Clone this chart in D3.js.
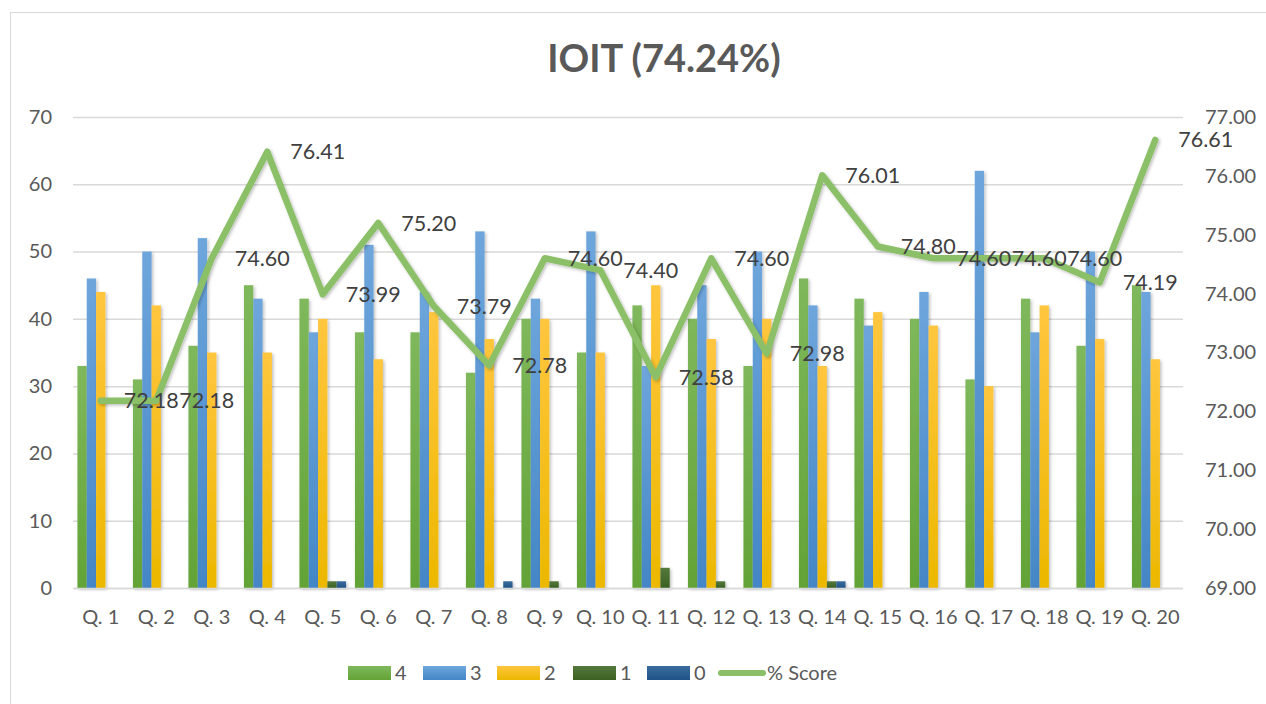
<!DOCTYPE html>
<html>
<head>
<meta charset="utf-8">
<script src="https://cdn.jsdelivr.net/npm/d3@7"></script>
<style>
  body { margin: 0; background: #fff; }
  text { font-family: Lato, "Open Sans", sans-serif; fill: #595959; }
</style>
</head>
<body>
<div class="chart"></div>
<script>
// categories and series
const questions = ['Q. 1','Q. 2','Q. 3','Q. 4','Q. 5','Q. 6','Q. 7','Q. 8','Q. 9','Q. 10',
  'Q. 11','Q. 12','Q. 13','Q. 14','Q. 15','Q. 16','Q. 17','Q. 18','Q. 19','Q. 20'];
const seriesKeys = ['4', '3', '2', '1', '0'];
const score4 = [33,31,36,45,43,38,38,32,40,35,42,40,33,46,43,40,31,43,36,45];
const score3 = [46,50,52,43,38,51,44,53,43,53,33,45,50,42,39,44,62,38,50,44];
const score2 = [44,42,35,35,40,34,41,37,40,35,45,37,40,33,41,39,30,42,37,34];
const score1 = [0,0,0,0,1,0,0,0,1,0,3,1,0,1,0,0,0,0,0,0];
const score0 = [0,0,0,0,1,0,0,1,0,0,0,0,0,1,0,0,0,0,0,0];
const pctScore = [72.18,72.18,74.60,76.41,73.99,75.20,73.79,72.78,74.60,74.40,
  72.58,74.60,72.98,76.01,74.80,74.60,74.60,74.60,74.19,76.61];
const leftTicks = [0,10,20,30,40,50,60,70];
const rightTicks = [69,70,71,72,73,74,75,76,77];
const title = 'IOIT (74.24%)';

const seriesData = [score4, score3, score2, score1, score0];
const colors = [
  { top: '#7fb85c', bottom: '#63a336' },
  { top: '#6ea6dc', bottom: '#4486c6' },
  { top: '#ffc63f', bottom: '#ecb800' },
  { top: '#55793c', bottom: '#3b6022' },
  { top: '#3a6c9c', bottom: '#1f5488' }
];
const legendFill = ['#70ad47', '#5b9bd5', '#ffc000', '#43682b', '#255e91'];
const lineColor = '#8cc068';

const width = 1266, height = 704;
const margin = { left: 73, right: 83, top: 117, bottom: 116 };
const plotW = width - margin.left - margin.right;
const plotH = height - margin.top - margin.bottom;

const svg = d3.select('.chart').append('svg')
  .attr('width', width).attr('height', height);

const defs = svg.append('defs');
colors.forEach((c, i) => {
  const g = defs.append('linearGradient').attr('id', 'grad' + i)
    .attr('x1', 0).attr('y1', 0).attr('x2', 0).attr('y2', 1);
  g.append('stop').attr('offset', '0%').attr('stop-color', c.top);
  g.append('stop').attr('offset', '100%').attr('stop-color', c.bottom);
});
const shadow = defs.append('filter').attr('id', 'shadow')
  .attr('x', '-50%').attr('y', '-20%').attr('width', '200%').attr('height', '140%');
shadow.append('feDropShadow').attr('dx', 1.5).attr('dy', 1.5).attr('stdDeviation', 1.5)
  .attr('flood-color', '#000').attr('flood-opacity', 0.25);

// chart border
svg.append('rect')
  .attr('x', 10.5).attr('y', 12.5).attr('width', 1300).attr('height', 800)
  .attr('fill', 'none').attr('stroke', '#d9d9d9');

// title
svg.append('text')
  .attr('x', 664).attr('y', 72)
  .attr('text-anchor', 'middle')
  .attr('font-size', 38).attr('font-weight', 'bold')
  .text(title);

const x = d3.scaleBand().domain(questions).range([0, plotW]);
const xg = d3.scaleBand().domain(seriesKeys)
  .range([x.bandwidth() * 0.08, x.bandwidth() * 0.92]);
const y = d3.scaleLinear().domain([0, 70]).range([plotH, 0]);
const y2 = d3.scaleLinear().domain([69, 77]).range([plotH, 0]);

const graph = svg.append('g').attr('transform', `translate(${margin.left},${margin.top})`);

// gridlines
graph.append('g')
  .selectAll('line').data(leftTicks).join('line')
  .attr('x1', 0).attr('x2', plotW)
  .attr('y1', d => y(d) + 0.5).attr('y2', d => y(d) + 0.5)
  .attr('stroke', '#d9d9d9').attr('stroke-width', 1.5);

// left axis
const yAxis = d3.axisLeft(y).tickValues(leftTicks).tickSize(0).tickPadding(21);
graph.append('g').call(yAxis)
  .call(g => g.select('.domain').remove())
  .selectAll('text').attr('font-size', 20).style('fill', '#595959');

// right axis
const yAxis2 = d3.axisRight(y2).tickValues(rightTicks).tickSize(0).tickPadding(22)
  .tickFormat(d3.format('.2f'));
graph.append('g').attr('transform', `translate(${plotW},0)`).call(yAxis2)
  .call(g => g.select('.domain').remove())
  .selectAll('text').attr('font-size', 20).style('fill', '#595959');

// x axis
const xAxis = d3.axisBottom(x).tickSize(0).tickPadding(22);
graph.append('g').attr('transform', `translate(0,${plotH})`).call(xAxis)
  .call(g => g.select('.domain').remove())
  .selectAll('text').attr('font-size', 20).style('fill', '#595959');

// bars
graph.append('g')
  .selectAll('g')
  .data(questions)
  .join('g')
  .attr('transform', d => `translate(${x(d)},0)`)
  .selectAll('rect')
  .data((d, qi) => seriesKeys.map((key, si) => ({ key, si, value: seriesData[si][qi] })))
  .join('rect')
  .filter(d => d.value > 0)
  .attr('x', d => xg(d.key))
  .attr('y', d => y(d.value))
  .attr('width', xg.bandwidth())
  .attr('height', d => y(0) - y(d.value))
  .attr('fill', d => `url(#grad${d.si})`)
  .attr('filter', 'url(#shadow)');

// baseline
graph.append('line')
  .attr('x1', 0).attr('x2', plotW).attr('y1', plotH + 0.5).attr('y2', plotH + 0.5)
  .attr('stroke', '#d9d9d9').attr('stroke-width', 1.5);

// line
const line = d3.line()
  .x((d, i) => x(questions[i]) + x.bandwidth() / 2)
  .y(d => y2(d));
graph.append('path')
  .datum(pctScore)
  .attr('d', line)
  .attr('fill', 'none')
  .attr('stroke', lineColor)
  .attr('stroke-width', 6.5)
  .attr('stroke-linejoin', 'round')
  .attr('stroke-linecap', 'round')
  .attr('filter', 'url(#shadow)');

// line labels
graph.append('g')
  .selectAll('text').data(pctScore).join('text')
  .attr('x', (d, i) => x(questions[i]) + x.bandwidth() / 2 + 23)
  .attr('y', d => y2(d))
  .attr('dy', '0.35em')
  .attr('font-size', 21.5)
  .style('fill', '#404040')
  .text(d => d.toFixed(2));

// legend
const legendItems = seriesKeys.map((k, i) => ({ label: k, color: legendFill[i], type: 'rect' }));
legendItems.push({ label: '% Score', color: lineColor, type: 'line' });
const legendX = [348, 423, 497, 573, 647, 718];
const legend = svg.append('g')
  .selectAll('g').data(legendItems).join('g')
  .attr('transform', (d, i) => `translate(${legendX[i]},673)`);
legend.filter(d => d.type === 'rect').append('rect')
  .attr('x', 0).attr('y', -7).attr('width', 43).attr('height', 14)
  .attr('fill', (d, i) => `url(#grad${i})`);
legend.filter(d => d.type === 'line').append('line')
  .attr('x1', 3).attr('x2', 45).attr('y1', 0).attr('y2', 0)
  .attr('stroke', d => d.color).attr('stroke-width', 6).attr('stroke-linecap', 'round');
legend.append('text')
  .attr('x', d => d.type === 'line' ? 49 : 47)
  .attr('y', 0).attr('dy', '0.35em')
  .attr('font-size', 20)
  .text(d => d.label);
</script>
</body>
</html>
